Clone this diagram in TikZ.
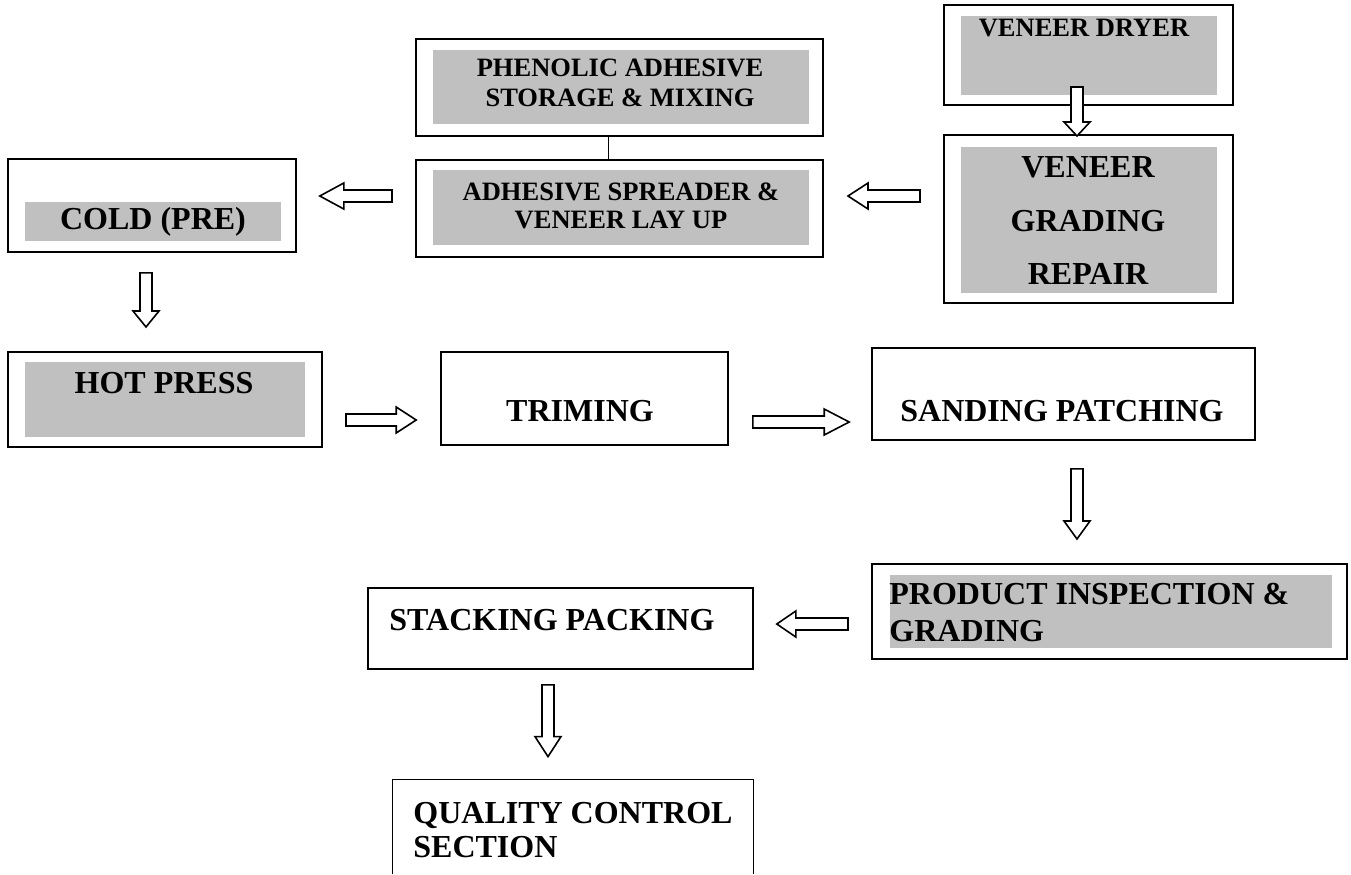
\documentclass[tikz,border=0pt]{standalone}
\usepackage{fontspec}
\setmainfont{Liberation Serif}
\usetikzlibrary{fit,calc}
\definecolor{shadegray}{HTML}{C0C0C0}
\tikzset{
  box/.style={draw, line width=1pt, inner sep=0pt},
  thinbox/.style={draw, line width=0.8pt, inner sep=0pt},
  shade/.style={fill=shadegray, inner sep=0pt},
  txt/.style 2 args={font=\fontsize{#1}{#2}\selectfont\bfseries, inner sep=0pt},
  blk/.style={draw, fill=white, line width=0.8pt, line join=miter}
}
\newcommand\arrR[3]{\draw[blk] ($(#1)+(0,-6)$) -- ($(#2)+(-#3,-6)$) -- ($(#2)+(-#3,-13)$) -- (#2) -- ($(#2)+(-#3,13)$) -- ($(#2)+(-#3,6)$) -- ($(#1)+(0,6)$) -- cycle;}
\newcommand\arrL[3]{\draw[blk] ($(#1)+(0,-6)$) -- ($(#2)+(#3,-6)$) -- ($(#2)+(#3,-13)$) -- (#2) -- ($(#2)+(#3,13)$) -- ($(#2)+(#3,6)$) -- ($(#1)+(0,6)$) -- cycle;}
\newcommand\arrD[3]{\draw[blk] ($(#1)+(-6,0)$) -- ($(#2)+(-6,-#3)$) -- ($(#2)+(-13,-#3)$) -- (#2) -- ($(#2)+(13,-#3)$) -- ($(#2)+(6,-#3)$) -- ($(#1)+(6,0)$) -- cycle;}
\begin{document}
\begin{tikzpicture}[x=0.5pt,y=-0.5pt]
\useasboundingbox[fill=white] (0,0) rectangle (1351,874);

% Phenolic adhesive storage & mixing
\node[box, fit={(416,39)(823,136)}] (phen) {};
\node[shade, fit={(433,50)(809,124)}] (phenG) {};
\node[txt={13.25pt}{15pt}, align=center] (phenT) at (620,83) {PHENOLIC ADHESIVE\\STORAGE \& MIXING};

% Adhesive spreader & veneer lay up
\node[box, fit={(416,160)(823,257)}] (spread) {};
\node[shade, fit={(433,170)(809,245)}] (spreadG) {};
\node[txt={13.25pt}{13.75pt}, align=center] (spreadT) at (621,206) {ADHESIVE SPREADER \&\\VENEER LAY UP};

\draw[line width=0.8pt] ($(phen.south)+(-11,0)$) -- ($(spread.north)+(-11,0)$);

% Veneer dryer
\node[box, fit={(944,5)(1233,105)}] (dryer) {};
\node[shade, fit={(961,16)(1217,95)}] (dryerG) {};
\node[txt={13.25pt}{15pt}] (dryerT) at (1084,28) {VENEER DRYER};

% Veneer grading repair
\node[box, fit={(944,135)(1233,303)}] (grade) {};
\node[shade, fit={(961,147)(1217,293)}] (gradeG) {};
\node[txt={16pt}{26.75pt}, align=center] (gradeT) at (1088,221) {VENEER\\GRADING\\REPAIR};

% Cold (pre)
\node[thinbox, fit={(8,159)(296,252)}] (cold) {};
\node[shade, fit={(25,202)(281,241)}] (coldG) {};
\node[txt={16pt}{18pt}] (coldT) at (153,222) {COLD (PRE)};

% Hot press
\node[box, fit={(8,352)(322,447)}] (hot) {};
\node[shade, fit={(25,362)(305,437)}] (hotG) {};
\node[txt={16pt}{18pt}] (hotT) at (164,383) {HOT PRESS};

% Triming
\node[thinbox, fit={(441,352)(728,445)}] (trim) {};
\node[txt={16pt}{18pt}] (trimT) at (580,411) {TRIMING};

% Sanding patching
\node[thinbox, fit={(872,348)(1255,440)}] (sand) {};
\node[txt={16pt}{18pt}] (sandT) at (1062,411) {SANDING PATCHING};

% Product inspection & grading
\node[box, fit={(872,564)(1347,659)}] (prod) {};
\node[shade, fit={(890,575)(1332,648)}] (prodG) {};
\node[txt={16pt}{18.5pt}, align=left, anchor=west] (prodT) at (889,613) {PRODUCT INSPECTION \&\\GRADING};

% Stacking packing
\node[thinbox, fit={(368,588)(753,669)}] (stack) {};
\node[txt={16pt}{18pt}, anchor=west] (stackT) at (389,620) {STACKING PACKING};

% Quality control section (open at the bottom)
\node[inner sep=0pt, fit={(393,780)(753,874)}] (qc) {};
\draw[line width=0.8pt] (qc.south west) -- (qc.north west) -- (qc.north east) -- (qc.south east);
\node[txt={16pt}{17pt}, align=left, anchor=west] (qcT) at (413,830) {QUALITY CONTROL\\SECTION};

% Block arrows
\coordinate (a1t) at ($(grade.west |- 0,196)+(-23,0)$);
\coordinate (a1h) at ($(spread.east |- 0,196)+(24,0)$);
\arrL{a1t}{a1h}{20}

\coordinate (a2t) at ($(spread.west |- 0,196)+(-23,0)$);
\coordinate (a2h) at ($(cold.east |- 0,196)+(23,0)$);
\arrL{a2t}{a2h}{24}

\coordinate (a3t) at (1077,87);
\coordinate (a3h) at (1077,136);
\arrD{a3t}{a3h}{14}

\coordinate (a4t) at ($(cold.south -| 146,0)+(0,20)$);
\coordinate (a4h) at ($(hot.north -| 146,0)+(0,-24)$);
\arrD{a4t}{a4h}{16}

\coordinate (a5t) at ($(hot.east |- 0,420)+(23,0)$);
\coordinate (a5h) at ($(trim.west |- 0,420)+(-24,0)$);
\arrR{a5t}{a5h}{20}

\coordinate (a6t) at ($(trim.east |- 0,422)+(24,0)$);
\coordinate (a6h) at ($(sand.west |- 0,422)+(-22,0)$);
\arrR{a6t}{a6h}{25}

\coordinate (a7t) at ($(sand.south -| 1077,0)+(0,28)$);
\coordinate (a7h) at ($(prod.north -| 1077,0)+(0,-24)$);
\arrD{a7t}{a7h}{18}

\coordinate (a8t) at ($(prod.west |- 0,624)+(-23,0)$);
\coordinate (a8h) at ($(stack.east |- 0,624)+(23,0)$);
\arrL{a8t}{a8h}{19}

\coordinate (a9t) at ($(stack.south -| 548,0)+(0,15)$);
\coordinate (a9h) at ($(qc.north -| 548,0)+(0,-23)$);
\arrD{a9t}{a9h}{20}
\end{tikzpicture}
\end{document}
